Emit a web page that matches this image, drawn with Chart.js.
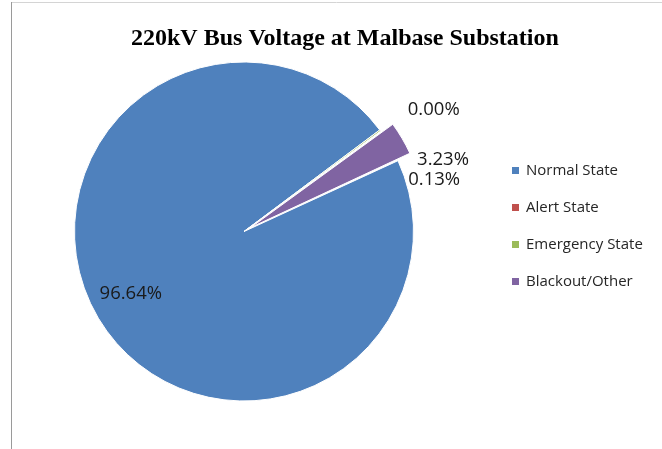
<!DOCTYPE html>
<html>
<head>
<meta charset="utf-8">
<script src="https://cdn.jsdelivr.net/npm/chart.js@4.4.1/dist/chart.umd.min.js"></script>
<style>
  html, body { margin: 0; padding: 0; background: #ffffff; }
  #wrap { position: relative; width: 662px; height: 449px; }
</style>
</head>
<body>
<div id="wrap"><canvas id="chart" width="662" height="449"></canvas></div>
<script>
// Share of time the 220kV bus spent in each operating state
const chartTitle = '220kV Bus Voltage at Malbase Substation';
const categories = ['Normal State', 'Alert State', 'Emergency State', 'Blackout/Other'];
const shares = [96.64, 0.00, 0.13, 3.23];
const shareLabels = ['96.64%', '0.00%', '0.13%', '3.23%'];

const sliceColors = ['#4f81bd', '#c0504d', '#9bbb59', '#8064a2'];
// Chart.js scales the offset down when drawing a thin slice (~0.45x here)
const sliceOffsets = [0, 0, 0, 31];
// label placement: inside labels sit on the slice's mid-angle; outside ones
// hang off the rim with a small nudge so neighbouring tiny slices don't collide
const labelInside = [true, false, false, false];
const labelNudge = [[-1, -4], [54, -20], [54, 49], [41, 21]];

const framePlugin = {
  id: 'frame',
  beforeDraw(chart) {
    const ctx = chart.ctx;
    ctx.save();
    ctx.fillStyle = '#ffffff';
    ctx.fillRect(0, 0, chart.width, chart.height);
    ctx.lineWidth = 1;
    ctx.strokeStyle = '#d4d4d4';
    ctx.beginPath();
    ctx.moveTo(11, 2.5);
    ctx.lineTo(chart.width, 2.5);
    ctx.stroke();
    ctx.strokeStyle = '#9a9a9a';
    ctx.beginPath();
    ctx.moveTo(11.5, 2);
    ctx.lineTo(11.5, chart.height);
    ctx.stroke();
    ctx.restore();
  }
};

const titlePlugin = {
  id: 'sheetTitle',
  afterDraw(chart) {
    const ctx = chart.ctx;
    ctx.save();
    ctx.font = 'bold 24px "Liberation Serif", "Times New Roman", serif';
    ctx.fillStyle = '#000000';
    ctx.textAlign = 'left';
    ctx.textBaseline = 'alphabetic';
    ctx.fillText(chartTitle, 131, 45);
    ctx.restore();
  }
};

const legendPlugin = {
  id: 'sideLegend',
  afterDraw(chart) {
    const ctx = chart.ctx;
    const ds = chart.data.datasets[0];
    ctx.save();
    ctx.font = '15px "Open Sans", sans-serif';
    ctx.textBaseline = 'middle';
    ctx.textAlign = 'left';
    chart.data.labels.forEach((name, i) => {
      const y = 170.5 + i * 37;
      ctx.fillStyle = ds.backgroundColor[i];
      ctx.fillRect(512, y - 3.5, 7, 7);
      ctx.fillStyle = '#262626';
      ctx.fillText(name, 526, y);
    });
    ctx.restore();
  }
};

const valueLabelPlugin = {
  id: 'valueLabels',
  afterDatasetsDraw(chart) {
    const ctx = chart.ctx;
    const meta = chart.getDatasetMeta(0);
    ctx.save();
    ctx.font = '18.5px "Open Sans", sans-serif';
    ctx.fillStyle = '#1a1a1a';
    ctx.textAlign = 'center';
    ctx.textBaseline = 'middle';
    meta.data.forEach((arc, i) => {
      const p = arc.getProps(['x', 'y', 'startAngle', 'endAngle', 'outerRadius']);
      const mid = (p.startAngle + p.endAngle) / 2;
      // same displacement the arc element applies when it is pulled out
      const circ = p.endAngle - p.startAngle;
      const shift = sliceOffsets[i] / 4 * (2 - Math.sin(Math.min(Math.PI, circ)));
      const r = labelInside[i] ? p.outerRadius * 0.77 : p.outerRadius + shift;
      const x = p.x + Math.cos(mid) * r + labelNudge[i][0];
      const y = p.y + Math.sin(mid) * r + labelNudge[i][1];
      ctx.fillText(shareLabels[i], x, y);
    });
    ctx.restore();
  }
};

new Chart(document.getElementById('chart'), {
  type: 'pie',
  data: {
    labels: categories,
    datasets: [{
      data: shares,
      backgroundColor: sliceColors,
      borderColor: '#ffffff',
      borderWidth: 1,
      hoverBorderWidth: 1,
      offset: sliceOffsets,
      hoverOffset: 0
    }]
  },
  options: {
    responsive: false,
    animation: false,
    events: [],
    rotation: 65.3,
    layout: { padding: { left: 55, right: 229, top: 46, bottom: 32 } },
    plugins: {
      legend: { display: false },
      title: { display: false },
      tooltip: { enabled: false }
    }
  },
  plugins: [framePlugin, titlePlugin, legendPlugin, valueLabelPlugin]
});
</script>
</body>
</html>
